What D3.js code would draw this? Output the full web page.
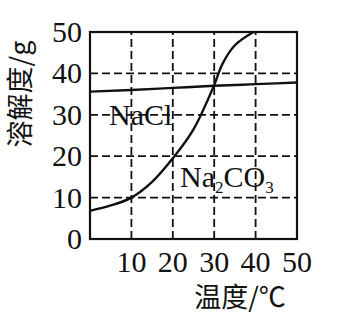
<!DOCTYPE html>
<html>
<head>
<meta charset="utf-8">
<script src="https://cdn.jsdelivr.net/npm/d3@7"></script>
<style>
  body { margin: 0; background: #fff; }
  svg { display: block; }
</style>
</head>
<body>
<div class="container"></div>
<script>
// values
var temps = [0, 10, 20, 30, 40, 50];
var naclValues = [35.6, 36.0, 36.5, 37.0, 37.4, 37.8];
var na2co3Temps = [0, 5, 10, 15, 20, 25, 30, 32, 35, 39.5];
var na2co3Values = [6.8, 8.1, 10, 13.8, 19.5, 26.5, 37.2, 42.3, 46.8, 50];
var xTicks = [10, 20, 30, 40, 50];
var yTicks = [0, 10, 20, 30, 40, 50];
var gridX = [10, 20, 30, 40];
var gridY = [10, 20, 30, 40];

var drawChart = function () {
    const WIDTH = 348;
    const HEIGHT = 334;
    var left = 90, right = 297, top = 32, bottom = 239;
    var serif = '"Liberation Serif", "Times New Roman", serif';
    var cjk = '"Noto Sans CJK SC", sans-serif';

    var svg = d3.select('.container')
        .append('svg')
        .attr('width', WIDTH)
        .attr('height', HEIGHT);

    var x = d3.scaleLinear().domain([0, 50]).range([left, right]);
    var y = d3.scaleLinear().domain([0, 50]).range([bottom, top]);

    // dashed grid
    var grid = svg.append('g')
        .style('stroke', '#111')
        .style('stroke-width', '1.8')
        .style('stroke-dasharray', '8,4');

    grid.selectAll('.gx')
        .data(gridX)
        .enter()
        .append('line')
        .attr('x1', d => x(d))
        .attr('x2', d => x(d))
        .attr('y1', y(0))
        .attr('y2', y(50));

    grid.selectAll('.gy')
        .data(gridY)
        .enter()
        .append('line')
        .attr('x1', x(0))
        .attr('x2', x(50))
        .attr('y1', d => y(d))
        .attr('y2', d => y(d));

    // frame
    svg.append('rect')
        .attr('x', x(0))
        .attr('y', y(50))
        .attr('width', x(50) - x(0))
        .attr('height', y(0) - y(50))
        .style('fill', 'none')
        .style('stroke', '#111')
        .style('stroke-width', '2.2');

    // tick labels
    svg.append('g')
        .selectAll('text')
        .data(xTicks)
        .enter()
        .append('text')
        .attr('x', d => x(d))
        .attr('y', 272)
        .attr('text-anchor', 'middle')
        .style('font-family', serif)
        .style('font-size', '30px')
        .style('fill', '#111')
        .text(d => d);

    svg.append('g')
        .selectAll('text')
        .data(yTicks)
        .enter()
        .append('text')
        .attr('x', 82)
        .attr('y', d => y(d) + 10)
        .attr('text-anchor', 'end')
        .style('font-family', serif)
        .style('font-size', '30px')
        .style('fill', '#111')
        .text(d => d);

    // axis titles
    svg.append('text')
        .attr('x', 240)
        .attr('y', 307)
        .attr('text-anchor', 'middle')
        .style('font-family', cjk)
        .style('font-size', '27px')
        .style('fill', '#111')
        .text('温度/℃');

    svg.append('text')
        .attr('transform', 'translate(30,94) rotate(-90)')
        .attr('text-anchor', 'middle')
        .style('font-family', cjk)
        .style('font-size', '27px')
        .style('fill', '#111')
        .text('溶解度/g');

    // curves
    var line = d3.line()
        .x(d => x(d[0]))
        .y(d => y(d[1]))
        .curve(d3.curveMonotoneX);

    svg.append('path')
        .datum(d3.zip(temps, naclValues))
        .attr('d', line)
        .style('fill', 'none')
        .style('stroke', '#111')
        .style('stroke-width', '2.4');

    svg.append('path')
        .datum(d3.zip(na2co3Temps, na2co3Values))
        .attr('d', line.curve(d3.curveCatmullRom))
        .style('fill', 'none')
        .style('stroke', '#111')
        .style('stroke-width', '2.4');

    // curve labels
    svg.append('text')
        .attr('x', 109)
        .attr('y', 125)
        .style('font-family', serif)
        .style('font-size', '30px')
        .style('fill', '#111')
        .text('NaCl');

    var lab = svg.append('text')
        .attr('x', 180)
        .attr('y', 187)
        .style('font-family', serif)
        .style('font-size', '30px')
        .style('fill', '#111');
    lab.append('tspan').text('Na');
    lab.append('tspan').attr('dy', 6).style('font-size', '17px').text('2');
    lab.append('tspan').attr('dy', -6).text('CO');
    lab.append('tspan').attr('dy', 6).style('font-size', '17px').text('3');
};
window.onload = drawChart;
</script>
</body>
</html>
